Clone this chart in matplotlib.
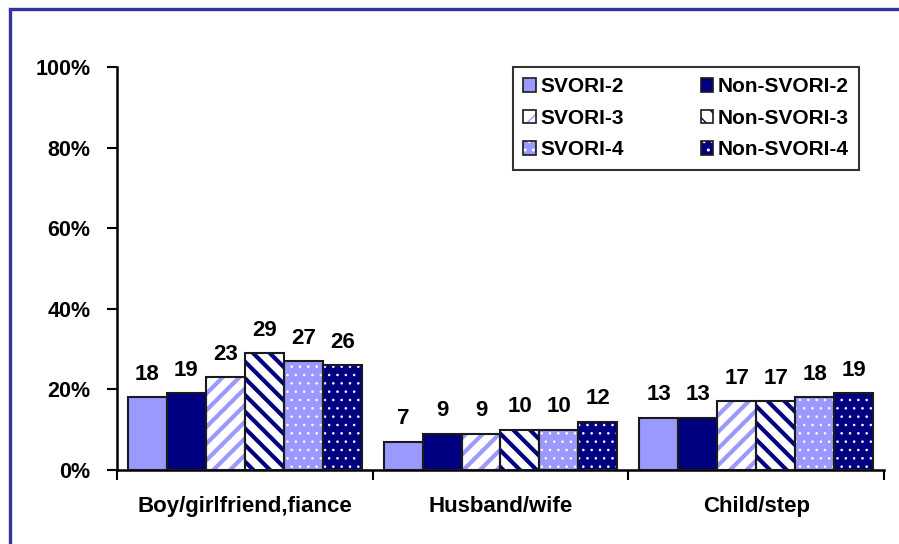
import numpy as np
import matplotlib
matplotlib.use("Agg")
import matplotlib.pyplot as plt
from matplotlib.patches import Patch
from matplotlib.lines import Line2D

# Data
categories = ["Boy/girlfriend,fiance", "Husband/wife", "Child/step"]
series_names = ["SVORI-2", "Non-SVORI-2", "SVORI-3", "Non-SVORI-3", "SVORI-4", "Non-SVORI-4"]
svori_2 = [18, 7, 13]
non_svori_2 = [19, 9, 13]
svori_3 = [23, 9, 17]
non_svori_3 = [29, 10, 17]
svori_4 = [27, 10, 18]
non_svori_4 = [26, 12, 19]
y_ticks = [0, 20, 40, 60, 80, 100]
y_tick_labels = ["0%", "20%", "40%", "60%", "80%", "100%"]

series_values = [svori_2, non_svori_2, svori_3, non_svori_3, svori_4, non_svori_4]

LIGHT = "#9999FF"
NAVY = "#000080"
EDGE = "#1a1a1a"
FRAME = "#333399"

# (face, hatch colour, hatch, hatch linewidth)
styles = [
    (LIGHT, None, None, 1.0),
    (NAVY, None, None, 1.0),
    ("white", LIGHT, "//", 3.0),
    ("white", NAVY, "\\\\", 3.0),
    (LIGHT, "white", "..", 0.6),
    (NAVY, "white", "..", 0.6),
]

plt.rcParams["font.family"] = ["Liberation Sans", "DejaVu Sans"]
plt.rcParams["font.weight"] = "bold"
FS_AXIS = 16
FS_TICK = 15.5
FS_VAL = 16
FS_LEG = 15

fig = plt.figure(figsize=(8.99, 5.44), dpi=100)
ax = fig.add_axes([117 / 899, 1 - 470 / 544, (884 - 117) / 899, (470 - 67) / 544])

x = np.arange(len(categories))
n = len(series_values)
bw = 0.1525
offsets = (np.arange(n) - (n - 1) / 2) * bw

handles = []
for i, (vals, (face, hcol, hatch, hlw)) in enumerate(zip(series_values, styles)):
    pos = x + offsets[i]
    if hatch:
        with plt.rc_context({"hatch.linewidth": hlw}):
            fill = ax.bar(pos, vals, bw, color=face, edgecolor=hcol, hatch=hatch,
                          linewidth=0, zorder=2)
            for p in fill:
                if hasattr(p, "set_hatch_linewidth"):
                    p.set_hatch_linewidth(hlw)
            hp = Patch(facecolor=face, edgecolor=hcol, hatch=hatch, linewidth=0)
            if hasattr(hp, "set_hatch_linewidth"):
                hp.set_hatch_linewidth(hlw)
    else:
        ax.bar(pos, vals, bw, color=face, linewidth=0, zorder=2)
        hp = Patch(facecolor=face, linewidth=0)
    ax.bar(pos, vals, bw, fill=False, edgecolor=EDGE, linewidth=1.5, zorder=3)
    op = Patch(fill=False, edgecolor=EDGE, linewidth=1.2)
    handles.append((hp, op))
    for xp, v in zip(pos, vals):
        ax.annotate(f"{v}", (xp, v), xytext=(0, 9), textcoords="offset points",
                    ha="center", va="bottom", fontsize=FS_VAL, fontweight="bold")

ax.set_xlim(-0.5, len(categories) - 0.5)
ax.set_ylim(0, 100)
ax.set_yticks(y_ticks)
ax.set_yticklabels(y_tick_labels, fontsize=FS_TICK, fontweight="bold")
ax.set_xticks(np.arange(len(categories) + 1) - 0.5)
ax.set_xticklabels([])
ax.set_xticks(x, minor=True)
ax.set_xticklabels(categories, minor=True, fontsize=FS_AXIS, fontweight="bold")
ax.tick_params(axis="x", which="major", direction="out", length=7, width=1.5)
ax.tick_params(axis="x", which="minor", length=0, pad=19)
ax.tick_params(axis="y", direction="out", length=7, width=1.5, pad=12)
for s in ["top", "right"]:
    ax.spines[s].set_visible(False)
for s in ["left", "bottom"]:
    ax.spines[s].set_linewidth(1.8)
    ax.spines[s].set_color("black")

# legend: row-major reading order across two columns
order = [0, 2, 4, 1, 3, 5]
leg = ax.legend([handles[k] for k in order], [series_names[k] for k in order],
                ncol=2, loc="upper left", bbox_to_anchor=((513 - 117) / 767, 1.0),
                bbox_transform=ax.transAxes,
                prop={"size": FS_LEG, "weight": "bold"}, frameon=True, fancybox=False,
                edgecolor="black", handlelength=0.6, handleheight=0.6,
                handletextpad=0.2, columnspacing=3.7, labelspacing=0.6,
                borderpad=0.5, borderaxespad=0)
leg.get_frame().set_linewidth(1.5)

# outer border along the left and top edges
fig.add_artist(Line2D([9.5 / 899, 9.5 / 899], [0, 1 - 8.5 / 544], color=FRAME, lw=2.4,
                      transform=fig.transFigure, solid_capstyle="butt"))
fig.add_artist(Line2D([9.5 / 899, 1], [1 - 8.5 / 544, 1 - 8.5 / 544], color=FRAME, lw=2.4,
                      transform=fig.transFigure, solid_capstyle="projecting"))

fig.savefig("out.png", dpi=100)
